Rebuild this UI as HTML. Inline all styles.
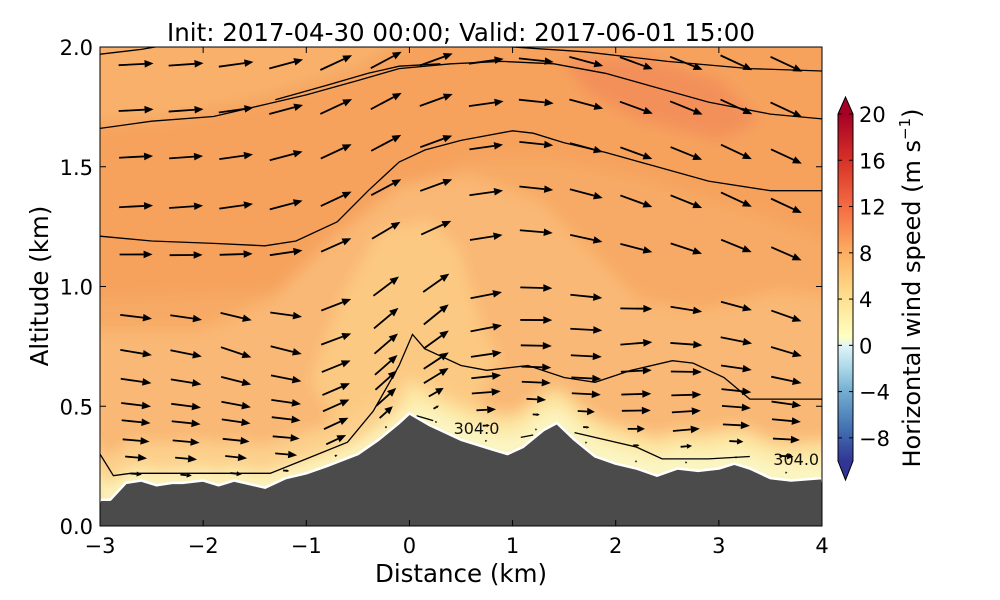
<!DOCTYPE html>
<html><head><meta charset="utf-8"><style>
html,body{margin:0;padding:0;background:#fff;}
svg{display:block;font-family:"DejaVu Sans","Liberation Sans",sans-serif;}
</style></head><body>
<svg id="chart" width="1000" height="600" viewBox="0 0 1000 600" xmlns="http://www.w3.org/2000/svg">
<defs>
<clipPath id="plotclip"><rect x="100" y="47" width="722" height="479"/></clipPath>
<filter id="blur" x="-5%" y="-5%" width="110%" height="110%"><feGaussianBlur stdDeviation="7"/></filter>
<linearGradient id="cbgrad" x1="0" y1="1" x2="0" y2="0">
<stop offset="0" stop-color="#313695"/><stop offset="0.1" stop-color="#4575b4"/>
<stop offset="0.2" stop-color="#74add1"/><stop offset="0.27" stop-color="#abd9e9"/>
<stop offset="0.33" stop-color="#e0f3f8"/><stop offset="0.36" stop-color="#ffffbf"/>
<stop offset="0.47" stop-color="#fee090"/><stop offset="0.6" stop-color="#fdae61"/>
<stop offset="0.73" stop-color="#f46d43"/><stop offset="0.87" stop-color="#d73027"/>
<stop offset="1" stop-color="#a50026"/>
</linearGradient>
</defs>
<text x="461" y="41" font-size="24.5" text-anchor="middle">Init: 2017-04-30 00:00; Valid: 2017-06-01 15:00</text>
<g id="plot" clip-path="url(#plotclip)">
<g id="fills" filter="url(#blur)"></g>
<g id="contours"></g>
<g id="arrows"></g>
<g id="terrain"></g>
</g>
<rect x="100" y="47" width="722" height="479" fill="none" stroke="#000" stroke-width="1"/>
<g id="axes"></g>
<g id="colorbar"></g>
<text x="461" y="582" font-size="24.5" text-anchor="middle">Distance (km)</text>
<text transform="translate(48,286) rotate(-90)" font-size="24.5" text-anchor="middle">Altitude (km)</text>
<text transform="translate(920,288) rotate(-90)" font-size="24" text-anchor="middle">Horizontal wind speed (m s<tspan font-size="15" dy="-10">−1</tspan><tspan dy="10">)</tspan></text>
</svg>
<script>
// ---- data ----
const terrainX = [-3,-2.9,-2.75,-2.6,-2.45,-2.3,-2.2,-2.0,-1.85,-1.7,-1.6,-1.4,-1.2,-1.0,-0.8,-0.5,-0.3,-0.1,0,0.2,0.5,0.8,0.95,1.1,1.3,1.43,1.6,1.8,2.0,2.2,2.4,2.6,2.8,3.0,3.15,3.3,3.5,3.7,4.0];
const terrainZ = [0.11,0.11,0.18,0.19,0.17,0.18,0.18,0.19,0.17,0.19,0.18,0.16,0.20,0.22,0.25,0.30,0.36,0.43,0.47,0.42,0.36,0.32,0.30,0.33,0.40,0.43,0.36,0.29,0.26,0.24,0.21,0.24,0.23,0.24,0.26,0.24,0.20,0.19,0.20];
const xTicks = [-3,-2,-1,0,1,2,3,4];
const yTicks = [0.0,0.5,1.0,1.5,2.0];
const cbTicks = [20,16,12,8,4,0,-4,-8];
// arrow columns (km) and sigma levels
const arrowCols = [-2.65,-2.165,-1.68,-1.195,-0.71,-0.225,0.26,0.745,1.23,1.715,2.2,2.685,3.17,3.655];
const levels = [0.016,0.052,0.089,0.13,0.167,0.219,0.281,0.359,0.495,0.6,0.708,0.81,0.91];
const levelLen = [16,22,27,29,30,31,32,32,33,34,34,35,35];
const angleLow = [-5,-5,-6,-5,25,42,30,3,-3,-3,0,5,-3,-3];
const angleMid = [-10,-12,-20,-15,20,40,40,12,0,-3,5,-5,-12,-18];
const angleHi  = [3,4,8,15,25,28,20,8,-6,-15,-20,-22,-25,-25];
const calmDepth = [0.02,0.02,0.02,0.03,0.05,0.06,0.12,0.11,0.11,0.12,0.12,0.08,0.07,0.07];
// contour lines (km, km)
const contours = [
 {x:[-3,-2.5,-1.9,-1.4,-1.1,-0.7,-0.4,-0.1,0.15,0.5,1.0,1.2,1.5,1.9,2.4,2.9,3.5,4.0], z:[1.21,1.19,1.18,1.17,1.19,1.27,1.4,1.52,1.57,1.61,1.65,1.64,1.6,1.56,1.5,1.44,1.4,1.4]},
 {x:[-3,-2.5,-1.9,-1.4,-1.0,-0.5,-0.1,0.4,0.9,1.4,1.9,2.4,2.9,3.5,4.0], z:[1.66,1.69,1.71,1.76,1.8,1.86,1.91,1.93,1.94,1.93,1.89,1.83,1.77,1.72,1.7]},
 {x:[-1.3,-0.8,-0.4,-0.1,0.3], z:[1.78,1.84,1.89,1.92,1.93]},
 {x:[-3,-2.6,-2.2], z:[1.97,1.99,2.02]},
 {x:[1.0,1.7,2.5,3.3,4.0], z:[2.0,1.98,1.94,1.91,1.9]},
 {x:[-3,-2.87,-2.7,-1.5,-1.35,-1.0,-0.6,-0.35,-0.1,0.03,0.15,0.5,0.75,1.15,1.5,1.8,2.15,2.55,2.75,3.05,3.3,4.0],
  z:[0.30,0.21,0.22,0.22,0.22,0.28,0.35,0.48,0.67,0.80,0.74,0.67,0.65,0.67,0.62,0.60,0.65,0.69,0.68,0.62,0.53,0.53]},
 {x:[0.07,0.23], z:[0.46,0.44]},
 {x:[1.08,1.2], z:[0.37,0.38]},
 {x:[1.6,2.2,2.45,2.9,3.3], z:[0.39,0.33,0.28,0.28,0.29]}
];
const labels = [{t:'304.0',x:0.65,z:0.41},{t:'304.0',x:3.75,z:0.28}];

// ---- scales ----
const NS='http://www.w3.org/2000/svg';
const X0=100,X1=822,Y0=526,Y1=47;
const sx = k => X0 + (k+3)*(X1-X0)/7;
const sy = a => Y0 - a*(Y0-Y1)/2;
function terr(x){
  for(let i=0;i<terrainX.length-1;i++){
    if(x>=terrainX[i]&&x<=terrainX[i+1]){const t=(x-terrainX[i])/(terrainX[i+1]-terrainX[i]);return terrainZ[i]+t*(terrainZ[i+1]-terrainZ[i]);}
  }
  return terrainZ[terrainZ.length-1];
}
function mk(tag,attrs,parent){const e=document.createElementNS(NS,tag);for(const k in attrs)e.setAttribute(k,attrs[k]);parent.appendChild(e);return e;}

// ---- filled background ----
const fills=document.getElementById('fills');
function band(off,xa,xb){
  let d='';const n=60;
  for(let i=0;i<=n;i++){const x=xa+(xb-xa)*i/n;d+=(i?'L':'M')+sx(x)+','+sy(terr(x)+off(x));}
  for(let i=n;i>=0;i--){const x=xa+(xb-xa)*i/n;d+='L'+sx(x)+','+sy(terr(x)-0.05);}
  return d+'Z';
}
let bg=mk('rect',{x:80,y:30,width:770,height:520,fill:'#f7aa65'},fills);


let p=mk('path',{d:'M80,30 L850,30 L850,250 L760,215 L650,180 L560,160 L470,160 L400,190 L340,240 L300,290 L80,300 Z',fill:'#f6a25d'},fills);


p=mk('path',{d:'M80,30 L420,30 L360,70 L260,100 L160,120 L80,125 Z',fill:'#f8b06a'},fills);


p=mk('path',{d:'M560,60 L640,55 L720,80 L760,120 L720,140 L640,120 L590,95 Z',fill:'#f3905a'},fills);


p=mk('path',{d:'M270,300 L330,240 L400,185 L470,175 L540,200 L600,260 L640,300 L700,310 L780,290 L850,300 L850,560 L80,560 L80,330 L200,330 Z',fill:'#f9b874'},fills);


p=mk('path',{d:'M310,380 L340,300 L380,230 L430,220 L460,250 L480,320 L500,360 L470,420 L350,450 Z',fill:'#fcc982'},fills);


p=mk('path',{d:band(x=>0.17,-3.2,4.2),fill:'#fcd08c'},fills);


p=mk('path',{d:band(x=>x>0?0.13:0.06,-3.2,4.2),fill:'#fde9a6'},fills);


p=mk('path',{d:band(x=>x>0.1?0.06:0.025,-3.2,4.2),fill:'#fbf6c4'},fills);



// ---- contours ----
const cg=document.getElementById('contours');
contours.forEach((c,ci)=>{
  let d=c.x.map((x,i)=>(i?'L':'M')+sx(x).toFixed(1)+','+sy(c.z[i]).toFixed(1)).join('');
  const e=mk('path',{d:d,fill:'none',stroke:'#000','stroke-width':1.3},cg);
  
  
});
labels.forEach(l=>{
  const t=mk('text',{x:sx(l.x),y:sy(l.z)+6,'font-size':16,'text-anchor':'middle',fill:'#111'},cg);
  t.textContent=l.t;
  
  
});

// ---- arrows ----
const ag=document.getElementById('arrows');
function blend(s,ci){
  if(s<=0.1) return angleLow[ci];
  if(s<=0.3){const t=(s-0.1)/0.2;return angleLow[ci]*(1-t)+angleMid[ci]*t;}
  if(s<=0.55){const t=(s-0.3)/0.25;return angleMid[ci]*(1-t)+angleHi[ci]*t;}
  return angleHi[ci];
}
arrowCols.forEach((cx,ci)=>{
  const h=terr(cx);
  levels.forEach((s,li)=>{
    const z=h+(2.1-h)*s;
    if(z>2.05) return;
    const ang=blend(s,ci)*Math.PI/180;
    let f=Math.min(1,Math.pow(s/calmDepth[ci],1.5));
    let L=levelLen[li]*f; if(L<2)L=2;
    const px=sx(cx),py=sy(z);
    const dx=Math.cos(ang),dy=-Math.sin(ang);
    const x0=px-dx*L/2,y0=py-dy*L/2,x1=px+dx*L/2,y1=py+dy*L/2;
    const hl=Math.min(9,L*0.45),hw=Math.min(3.8,L*0.22);
    const bx=x1-dx*hl,by=y1-dy*hl,nx=-dy,ny=dx;
    const g=mk('g',{},ag);
    
    
    mk('line',{x1:x0,y1:y0,x2:bx,y2:by,stroke:'#000','stroke-width':1.8},g);
    mk('polygon',{points:`${x1},${y1} ${bx+nx*hw},${by+ny*hw} ${bx-nx*hw},${by-ny*hw}`,fill:'#000'},g);
  });
});

// ---- terrain ----
const tg=document.getElementById('terrain');
let td='M'+sx(-3.1)+','+(Y0+20);
terrainX.forEach((x,i)=>{td+='L'+sx(x).toFixed(1)+','+sy(terrainZ[i]).toFixed(1);});
td+='L'+sx(4.1)+','+(Y0+20)+'Z';
const tpath=mk('path',{d:td,fill:'#4b4b4b',stroke:'#fff','stroke-width':2.5,'stroke-linejoin':'round'},tg);



// ---- axes ----
const ax=document.getElementById('axes');
xTicks.forEach(v=>{
  const x=sx(v);
  mk('line',{x1:x,y1:Y0,x2:x,y2:Y0-6,stroke:'#000'},ax);
  mk('line',{x1:x,y1:Y1,x2:x,y2:Y1+6,stroke:'#000'},ax);
  const t=mk('text',{x:x,y:Y0+27,'font-size':21,'text-anchor':'middle'},ax);
  t.textContent=(v<0?'−'+(-v):v);
  
  
});
yTicks.forEach(v=>{
  const y=sy(v);
  mk('line',{x1:X0,y1:y,x2:X0+6,y2:y,stroke:'#000'},ax);
  mk('line',{x1:X1,y1:y,x2:X1-6,y2:y,stroke:'#000'},ax);
  const t=mk('text',{x:X0-7,y:y+8,'font-size':21,'text-anchor':'end'},ax);
  t.textContent=v.toFixed(1);
  
  
});

// ---- colorbar ----
const cb=document.getElementById('colorbar');
const CBX=838,CBW=15,cbTop=114,cbBot=461;
const cy=v=>cbBot-(v+10)*(cbBot-cbTop)/30;
const cbr=mk('rect',{x:CBX,y:cbTop,width:CBW,height:cbBot-cbTop,fill:'url(#cbgrad)'},cb);


const tu=mk('polygon',{points:`${CBX},${cbTop} ${CBX+CBW/2},97 ${CBX+CBW},${cbTop}`,fill:'#a50026'},cb);


const tdn=mk('polygon',{points:`${CBX},${cbBot} ${CBX+CBW/2},480 ${CBX+CBW},${cbBot}`,fill:'#313695'},cb);


mk('polygon',{points:`${CBX},${cbTop} ${CBX+CBW/2},97 ${CBX+CBW},${cbTop} ${CBX+CBW},${cbBot} ${CBX+CBW/2},480 ${CBX},${cbBot}`,fill:'none',stroke:'#000','stroke-width':1},cb);
cbTicks.forEach(v=>{
  const y=cy(v);
  mk('line',{x1:CBX,y1:y,x2:CBX+4,y2:y,stroke:'#000'},cb);
  mk('line',{x1:CBX+CBW,y1:y,x2:CBX+CBW-4,y2:y,stroke:'#000'},cb);
  const t=mk('text',{x:CBX+CBW+6,y:y+8,'font-size':21},cb);
  t.textContent=(v<0?'−'+(-v):v);
  
  
});
</script>
</body></html>
